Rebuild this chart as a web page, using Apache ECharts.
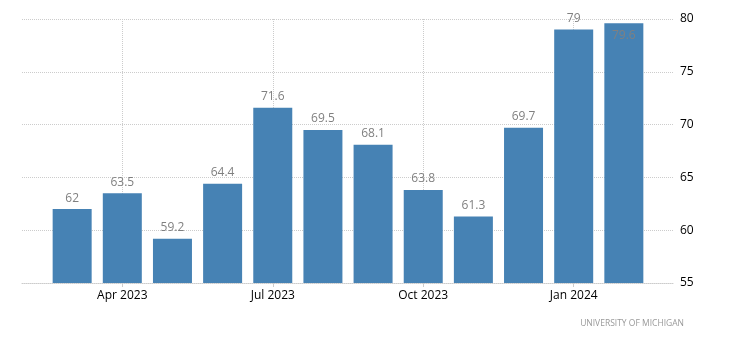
<!DOCTYPE html>
<html><head><meta charset="utf-8">
<script src="https://cdn.jsdelivr.net/npm/echarts@6/dist/echarts.min.js"></script>
<style>html,body{margin:0;padding:0;background:#fff}#c{width:730px;height:351px}</style>
</head><body><div id="c"></div>
<script>
var categories = ['Mar 2023','Apr 2023','May 2023','Jun 2023','Jul 2023','Aug 2023','Sep 2023','Oct 2023','Nov 2023','Dec 2023','Jan 2024','Feb 2024'];
var values = [62, 63.5, 59.2, 64.4, 71.6, 69.5, 68.1, 63.8, 61.3, 69.7, 79, 79.6];
var tickLabels = ['Apr 2023','Jul 2023','Oct 2023','Jan 2024'];
var yMin = 55, yMax = 80, yStep = 5;

var axisData = [''].concat(categories).concat(['']);
var seriesData = ['-'].concat(values.map(function(v, i){
  var item = {value: v};
  if (v > yMax - 1) item.label = {position: 'insideTop', distance: 6};
  return item;
})).concat(['-']);
function showTick(i){ return tickLabels.indexOf(axisData[i]) >= 0; }

var FONT = 'Open Sans, Liberation Sans, Arial, sans-serif';
var chart = echarts.init(document.getElementById('c'));
chart.setOption({
  animation: false,
  textStyle: {fontFamily: FONT},
  grid: {left: 22, right: 56, top: 19, bottom: 68},
  xAxis: {
    type: 'category', data: axisData, boundaryGap: false,
    axisLine: {show: true, lineStyle: {color: '#ccc', type: 'dotted'}},
    axisTick: {show: true, interval: function(i){return showTick(i);}, length: 4, lineStyle: {color: '#ccc'}},
    axisLabel: {interval: function(i){return showTick(i);}, color: '#000', fontSize: 12, margin: 7},
    splitLine: {show: true, interval: function(i){return showTick(i);}, lineStyle: {color: '#ccc', type: 'dotted'}}
  },
  yAxis: {
    type: 'value', position: 'right', min: yMin, max: yMax, interval: yStep,
    axisLine: {show: false}, axisTick: {show: false},
    axisLabel: {color: '#000', fontSize: 12, margin: 6},
    splitLine: {lineStyle: {color: '#ccc', type: 'dotted'}}
  },
  series: [{
    type: 'bar', data: seriesData, barWidth: 39,
    itemStyle: {color: '#4682B4'},
    label: {show: true, position: 'top', color: '#808080', fontSize: 12, distance: 5}
  }],
  graphic: [{
    type: 'text', right: 46, top: 319,
    style: {text: 'UNIVERSITY OF MICHIGAN', fill: '#999', font: '8.5px ' + FONT}
  }]
});
</script></body></html>
